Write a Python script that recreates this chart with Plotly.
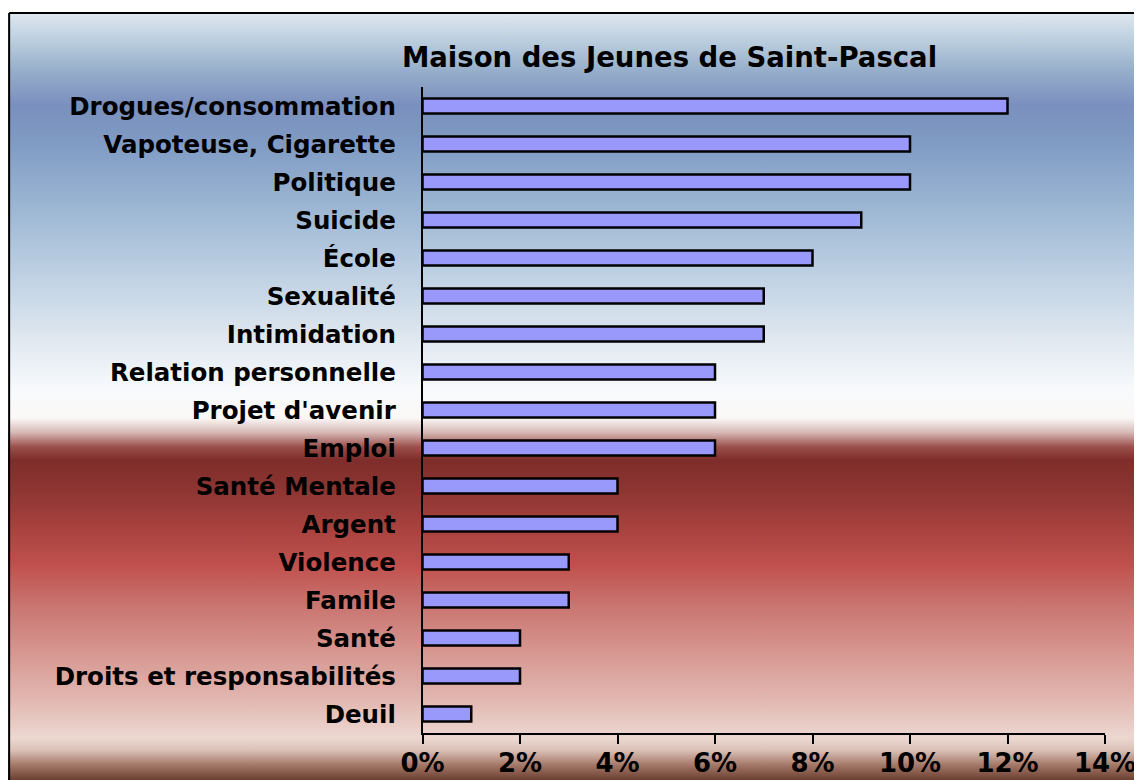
import plotly.graph_objects as go

# ---- data ----
categories = [
    "Drogues/consommation", "Vapoteuse, Cigarette", "Politique", "Suicide",
    "École", "Sexualité", "Intimidation", "Relation personnelle",
    "Projet d'avenir", "Emploi", "Santé Mentale", "Argent", "Violence",
    "Famile", "Santé", "Droits et responsabilités", "Deuil",
]
values = [0.12, 0.10, 0.10, 0.09, 0.08, 0.07, 0.07, 0.06, 0.06, 0.06,
          0.04, 0.04, 0.03, 0.03, 0.02, 0.02, 0.01]
tick_values = [0, 0.02, 0.04, 0.06, 0.08, 0.10, 0.12, 0.14]
title_text = "Maison des Jeunes de Saint-Pascal"

# ---- style ----
W, H = 1134, 772          # figure size (page has 8px body margin)
FONT = "DejaVu Sans"
BAR_COLOR = "#9999fc"
BOTTOM = 8 + H            # screen y of the figure bottom
TOP = 13                  # screen y of the chart frame top

# background gradient stops: (screen y, colour)
BG_STOPS = [
    (13, "#dfe8f0"), (40, "#bccfdf"), (70, "#97afcb"), (105, "#7a8fbe"),
    (140, "#7f9ac3"), (200, "#98b3d1"), (270, "#bccfe2"), (340, "#e0e8f0"),
    (390, "#f8fafc"), (418, "#fbf8f7"), (432, "#d8bbb8"), (447, "#9a4f4b"),
    (460, "#7e2d2a"), (490, "#8d3532"), (530, "#a9433f"), (565, "#c0504d"),
    (605, "#c97470"), (650, "#d6958f"), (700, "#e2b7b1"), (738, "#ecd8d1"),
    (750, "#dcc2b8"), (765, "#a47868"), (780, "#6c4031"),
]
colorscale = sorted([((BOTTOM - y) / (BOTTOM - TOP), c) for y, c in BG_STOPS])


def sy(y):  # screen y -> paper fraction from bottom
    return (H - (y - 8)) / H


def sx(x):  # screen x -> paper fraction
    return (x - 8) / W


fig = go.Figure()

# gradient background on a full-page helper subplot
fig.add_trace(go.Scatter(
    x=[0, W + 10, W + 10, 0, 0],
    y=[-10, -10, BOTTOM - TOP, BOTTOM - TOP, -10],
    mode="lines", line=dict(width=0), fill="toself",
    fillgradient=dict(type="vertical", colorscale=colorscale,
                      start=0, stop=BOTTOM - TOP),
    hoverinfo="skip", showlegend=False, xaxis="x", yaxis="y",
))

fig.add_trace(go.Bar(
    x=values, y=categories, orientation="h",
    marker=dict(color=BAR_COLOR, line=dict(color="black", width=2.5)),
    xaxis="x2", yaxis="y2", showlegend=False,
))

fig.update_layout(
    width=W, height=H,
    margin=dict(l=0, r=0, t=0, b=0),
    paper_bgcolor="white",
    plot_bgcolor="rgba(0,0,0,0)",
    bargap=0.6,
    xaxis=dict(domain=[0, 1], range=[0, W], visible=False, fixedrange=True),
    yaxis=dict(domain=[0, 1], range=[0, H], visible=False, fixedrange=True),
    xaxis2=dict(
        domain=[sx(422.5), sx(1105)], anchor="y2",
        range=[0, 0.14], tickvals=tick_values, tickformat=".0%",
        showgrid=False, zeroline=False, automargin=False,
        showline=True, linecolor="black", linewidth=1.5,
        ticks="outside", ticklen=9, tickwidth=1.5, tickcolor="black",
        tickfont=dict(family=FONT, size=26, color="black", weight="bold"),
        ticklabelstandoff=-3,
    ),
    yaxis2=dict(
        domain=[sy(733), sy(87)], anchor="x2",
        range=[16.5, -0.5], type="category",
        showgrid=False, zeroline=False, automargin=False,
        showline=True, linecolor="black", linewidth=1.5,
        ticks="",
        tickfont=dict(family=FONT, size=24.5, color="black", weight="bold"),
        ticklabelstandoff=20,
    ),
    title=dict(
        text=title_text, x=sx(669.5), xanchor="center",
        y=sy(57), yanchor="middle", xref="paper", yref="paper",
        font=dict(family=FONT, size=27.5, color="black", weight="bold"),
    ),
    shapes=[
        dict(type="line", xref="paper", yref="paper",
             x0=0.001, x1=0.001, y0=0, y1=sy(TOP),
             line=dict(color="black", width=2), layer="above"),
        dict(type="line", xref="paper", yref="paper",
             x0=0.001, x1=1, y0=sy(TOP), y1=sy(TOP),
             line=dict(color="black", width=2), layer="above"),
    ],
)

fig.write_html("out.html")
